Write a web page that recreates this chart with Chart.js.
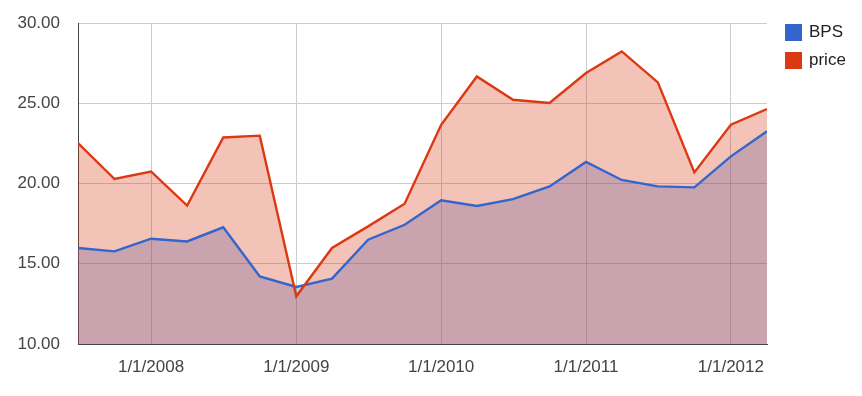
<!DOCTYPE html>
<html>
<head>
<meta charset="utf-8">
<title>BPS vs price</title>
<script src="https://cdn.jsdelivr.net/npm/chart.js@4/dist/chart.umd.min.js"></script>
<style>
  html, body { margin: 0; padding: 0; background: #fff; }
  #wrap { width: 862px; height: 396px; }
</style>
</head>
<body>
<div id="wrap"><canvas id="bps-chart" width="862" height="396"></canvas></div>
<script>
// ── Data (quarterly) ──────────────────────────────────────
const dates = [
  '7/1/2007', '10/1/2007',
  '1/1/2008', '4/1/2008', '7/1/2008', '10/1/2008',
  '1/1/2009', '4/1/2009', '7/1/2009', '10/1/2009',
  '1/1/2010', '4/1/2010', '7/1/2010', '10/1/2010',
  '1/1/2011', '4/1/2011', '7/1/2011', '10/1/2011',
  '1/1/2012', '4/1/2012'
];
const bps   = [15.98, 15.77, 16.56, 16.39, 17.27, 14.21, 13.55, 14.07, 16.50, 17.43,
               18.95, 18.60, 19.03, 19.82, 21.34, 20.22, 19.82, 19.76, 21.69, 23.25];
const price = [22.52, 20.28, 20.75, 18.62, 22.87, 22.98, 12.97, 15.98, 17.33, 18.74,
               23.66, 26.67, 25.22, 25.02, 26.88, 28.23, 26.30, 20.69, 23.66, 24.64];
const xTickLabels = ['1/1/2008', '1/1/2009', '1/1/2010', '1/1/2011', '1/1/2012'];
const yTicks = [10, 15, 20, 25, 30];

const FONT = '"Liberation Sans", Arial, sans-serif';

// m/d/yyyy -> ms (UTC so quarters don't drift)
function toTime(s) {
  const [m, d, y] = s.split('/').map(Number);
  return Date.UTC(y, m - 1, d);
}
const xs = dates.map(toTime);
const pts = vals => vals.map((v, i) => ({ x: xs[i], y: v }));

// ── Legend drawn at the right, Google-charts style ────────
const sideLegend = {
  id: 'sideLegend',
  afterDraw(chart) {
    const ctx = chart.ctx;
    const left = chart.chartArea.right + 18;
    ctx.save();
    ctx.font = '17px ' + FONT;
    ctx.textBaseline = 'middle';
    ctx.textAlign = 'left';
    chart.data.datasets.forEach((ds, i) => {
      const top = 24 + i * 28;
      ctx.fillStyle = ds.borderColor;
      ctx.fillRect(left, top, 17, 17);
      ctx.fillStyle = '#222';
      ctx.fillText(ds.label, left + 24, top + 8.5);
    });
    ctx.restore();
  }
};

new Chart(document.getElementById('bps-chart').getContext('2d'), {
  type: 'line',
  data: {
    datasets: [
      {
        label: 'BPS', data: pts(bps), order: 1,
        borderColor: '#3366CC', backgroundColor: 'rgba(51,102,204,0.3)',
        borderWidth: 2.4, pointRadius: 0, tension: 0, fill: 'start'
      },
      {
        label: 'price', data: pts(price), order: 0,
        borderColor: '#DC3912', backgroundColor: 'rgba(220,57,18,0.3)',
        borderWidth: 2.4, pointRadius: 0, tension: 0, fill: 'start'
      }
    ]
  },
  options: {
    responsive: false, animation: false, devicePixelRatio: 1,
    layout: { padding: { left: 0, top: 23, right: 95, bottom: 0 } },
    plugins: {
      legend: { display: false },
      tooltip: { enabled: false },
      filler: { drawTime: 'beforeDatasetsDraw' }
    },
    scales: {
      x: {
        type: 'linear',
        min: xs[0], max: xs[xs.length - 1],
        afterBuildTicks: s => { s.ticks = xTickLabels.map(l => ({ value: toTime(l) })); },
        afterFit: s => { s.height = 52; s.paddingLeft = 0; s.paddingRight = 0; },
        grid: { color: '#cccccc', drawTicks: false },
        border: { color: '#444', width: 1 },
        ticks: {
          autoSkip: false, maxRotation: 0, padding: 13,
          color: '#444', font: { family: FONT, size: 17 },
          callback: v => xTickLabels[xTickLabels.map(toTime).indexOf(v)] || ''
        }
      },
      y: {
        min: 10, max: 30,
        afterBuildTicks: s => { s.ticks = yTicks.map(v => ({ value: v })); },
        afterFit: s => { s.width = 78; s.paddingTop = 0; s.paddingBottom = 0; },
        grid: { color: '#cccccc', drawTicks: false },
        border: { color: '#444', width: 1 },
        ticks: {
          padding: 18,
          color: '#444', font: { family: FONT, size: 17 },
          callback: v => Number(v).toFixed(2)
        }
      }
    }
  },
  plugins: [sideLegend]
});
</script>
</body>
</html>
